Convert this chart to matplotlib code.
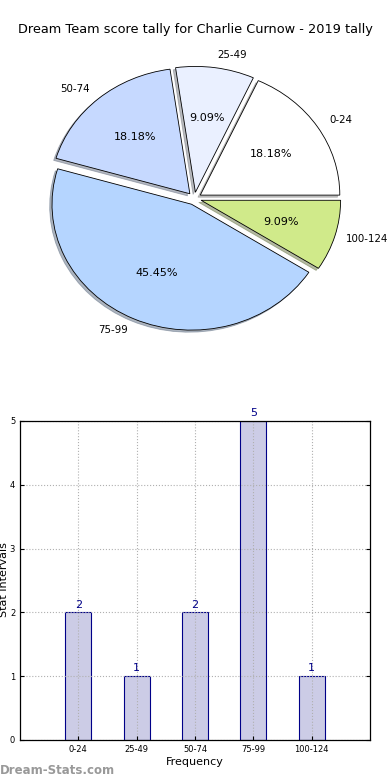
import matplotlib
matplotlib.use("Agg")
import matplotlib.pyplot as plt

title = "Dream Team score tally for Charlie Curnow - 2019 tally"
categories = ["0-24", "25-49", "50-74", "75-99", "100-124"]
counts = [2, 1, 2, 5, 1]
pie_colors = ["#ffffff", "#eaf0ff", "#c6d9ff", "#b5d5ff", "#d0ea8a"]

fig = plt.figure(figsize=(3.9, 7.8), dpi=100)
fig.patch.set_facecolor("white")

# Pie chart
axp = fig.add_axes([0.105, 0.568, 0.787, 0.355])
wedges, texts, autotexts = axp.pie(
    counts, labels=categories, colors=pie_colors, explode=[0.05] * len(counts),
    autopct="%.2f%%", startangle=0,
    shadow={"ox": -0.012, "oy": -0.012, "shade": 0.5},
    wedgeprops=dict(edgecolor="black", linewidth=0.6),
    textprops=dict(fontsize=8))
for t in texts:
    t.set_fontsize(7.4)
px, py = texts[-1].get_position()
texts[-1].set_position((px - 0.02, py))
axp.set_aspect("auto")
axp.set_xlim(-1.1, 1.1)
axp.set_ylim(-1.1, 1.1)
axp.axis("off")
fig.text(0.5, 1 - 30 / 780, title, ha="center", va="center", fontsize=9.3)

# Bar chart
axb = fig.add_axes([0.0513, 0.0513, 0.8974, 0.409])
x = list(range(len(categories)))
bars = axb.bar(x, counts, width=0.45, color="#cccce6", edgecolor="#000088", linewidth=0.8)
axb.set_xlim(-1, len(categories))
axb.set_ylim(0, 5)
axb.set_xticks(x)
axb.set_xticklabels(categories)
axb.set_yticks(range(0, 6))
axb.tick_params(labelsize=6, direction="in", top=False, right=True, length=3)
axb.grid(True, linestyle=":", color="#b0b0b0", linewidth=0.8)
axb.set_axisbelow(False)
for sp in axb.spines.values():
    sp.set_zorder(5)
    sp.set_linewidth(0.9)
for xi, c in zip(x, counts):
    axb.annotate(str(c), (xi, c), xytext=(0, 2), textcoords="offset points",
                 ha="center", va="bottom", fontsize=8, color="#000088")
axb.set_xlabel("Frequency", fontsize=8, labelpad=2)
fig.text(4 / 390, 1 - 580 / 780, "Stat Intervals", rotation=90, ha="center", va="center", fontsize=8)
fig.text(0, 1 - 771 / 780, "Dream-Stats.com", ha="left", va="center", fontsize=8.5,
         color="#999999", fontweight="bold")

fig.savefig("out.png", dpi=100)
